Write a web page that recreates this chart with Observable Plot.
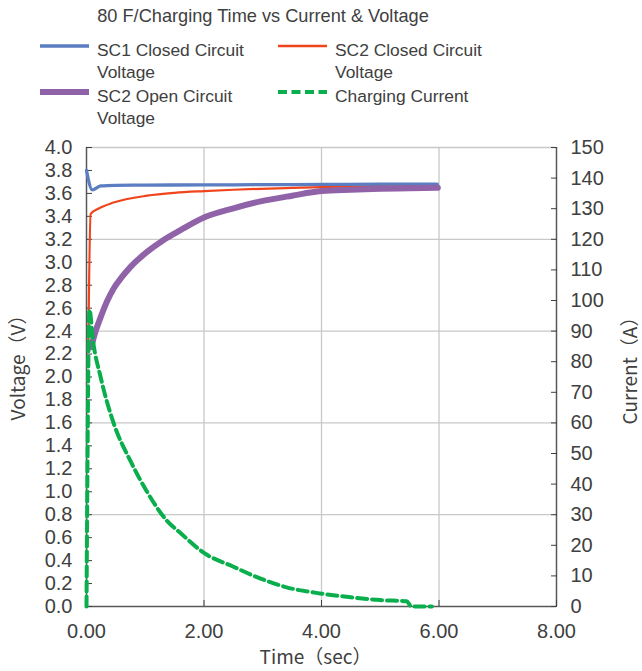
<!DOCTYPE html>
<html>
<head>
<meta charset="utf-8">
<script src="https://cdn.jsdelivr.net/npm/d3@7"></script>
<script src="https://cdn.jsdelivr.net/npm/@observablehq/plot@0.6"></script>
<style>
  html, body { margin: 0; padding: 0; background: #fff; }
  svg { display: block; }
  #head text { font-family: 'Liberation Sans', Arial, sans-serif; fill: #404040; }
</style>
</head>
<body>
<svg id="head" width="642" height="132"></svg>
<div id="chart"></div>
<script>
// ---- data ----
const chartTitle = "80 F/Charging Time vs Current & Voltage";
const seriesNames = ["SC1 Closed Circuit Voltage", "SC2 Closed Circuit Voltage", "SC2 Open Circuit Voltage", "Charging Current"];

const sc1Time = [0, 0.1, 0.24, 0.5, 1, 2, 3, 4, 5, 5.97];
const sc1Volt = [3.80, 3.63, 3.665, 3.67, 3.672, 3.674, 3.676, 3.678, 3.68, 3.68];

const sc2ClosedTime = [0.03, 0.07, 0.2, 0.46, 1.03, 1.5, 2.0, 2.5, 2.96, 3.5, 4.0, 4.5, 5.0, 5.45, 5.97];
const sc2ClosedVolt = [2.24, 3.42, 3.466, 3.52, 3.58, 3.605, 3.62, 3.632, 3.64, 3.648, 3.655, 3.66, 3.665, 3.67, 3.675];

const sc2OpenTime = [0.08, 0.15, 0.24, 0.35, 0.46, 0.6, 0.75, 1.03, 1.3, 1.6, 2.0, 2.5, 2.96, 3.5, 4.0, 4.5, 5.0, 5.5, 5.98];
const sc2OpenVolt = [2.26, 2.39, 2.52, 2.66, 2.77, 2.87, 2.96, 3.09, 3.19, 3.28, 3.39, 3.47, 3.53, 3.58, 3.62, 3.632, 3.64, 3.645, 3.65];

const currentTime = [0, 0.05, 0.11, 0.24, 0.46, 0.75, 1.03, 1.37, 1.6, 2.0, 2.5, 2.9, 3.36, 4.0, 4.5, 5.0, 5.45, 5.53, 5.88];
const currentAmp  = [0, 97, 87, 75, 60, 47.5, 37.5, 28, 24, 17.5, 13, 9.6, 6.5, 4.2, 3.0, 2.1, 1.7, 0, 0];

const voltTicks = [0.0, 0.2, 0.4, 0.6, 0.8, 1.0, 1.2, 1.4, 1.6, 1.8, 2.0, 2.2, 2.4, 2.6, 2.8, 3.0, 3.2, 3.4, 3.6, 3.8, 4.0];
const currentTicks = [0, 10, 20, 30, 40, 50, 60, 70, 80, 90, 100, 110, 120, 130, 140, 150];
const currentGrid = [30, 60, 90, 120, 150];
const timeTicks = [0, 2, 4, 6, 8];
const timeGrid = [2, 4, 6];

const colors = ["#5b7dc2", "#f0441c", "#9062a8", "#0aae4c"];
const FONT = "'Noto Sans CJK JP', sans-serif";
const TICKFONT = "'Liberation Sans', Arial, sans-serif";

// ---- header (title + legend) ----
const NS = "http://www.w3.org/2000/svg";
const head = document.getElementById("head");
function el(tag, attrs, text, parent) {
  const e = document.createElementNS(NS, tag);
  for (const k in attrs) e.setAttribute(k, attrs[k]);
  if (text != null) e.textContent = text;
  (parent || head).appendChild(e);
  return e;
}
el("text", {x: 263, y: 22, "text-anchor": "middle", "font-size": 18.2}, chartTitle);
const legendItems = [
  {x: 40, y: 46, w: 3.5, dash: null, lines: ["SC1 Closed Circuit", "Voltage"]},
  {x: 278, y: 46, w: 2.5, dash: null, lines: ["SC2 Closed Circuit", "Voltage"]},
  {x: 40, y: 92, w: 6, dash: null, lines: ["SC2 Open Circuit", "Voltage"]},
  {x: 278, y: 92, w: 4, dash: "9,4.5", lines: ["Charging Current"]}
];
legendItems.forEach((it, i) => {
  const a = {x1: it.x, x2: it.x + 49, y1: it.y, y2: it.y, stroke: colors[i], "stroke-width": it.w};
  if (it.dash) a["stroke-dasharray"] = it.dash;
  el("line", a);
  it.lines.forEach((s, j) => el("text", {x: it.x + 57, y: it.y + 10 + j * 22, "font-size": 17.4}, s));
});

// ---- chart ----
const K = 4 / 150; // amps -> volts on the shared y scale
const sc1 = sc1Time.map((t, i) => ({t, v: sc1Volt[i]}));
const sc2c = sc2ClosedTime.map((t, i) => ({t, v: sc2ClosedVolt[i]}));
const sc2o = sc2OpenTime.map((t, i) => ({t, v: sc2OpenVolt[i]}));
const cur = currentTime.map((t, i) => ({t, a: currentAmp[i]}));

const axisColor = "#595959";
const gridColor = "#c8c8c8";
const labelStyle = {fontSize: 19, fontFamily: FONT, fill: "#404040", textAnchor: "middle", lineAnchor: "middle"};

const chart = Plot.plot({
  width: 642,
  height: 539,
  marginTop: 15,
  marginBottom: 65,
  marginLeft: 86,
  marginRight: 86,
  style: {fontFamily: TICKFONT, fontSize: "20px", color: "#404040", background: "#fff", overflow: "visible"},
  x: {domain: [0, 8]},
  y: {domain: [0, 4]},
  marks: [
    Plot.gridY(currentGrid.map(a => a * K), {stroke: gridColor, strokeOpacity: 1, strokeWidth: 1.3}),
    Plot.gridX(timeGrid, {stroke: gridColor, strokeOpacity: 1, strokeWidth: 1.3}),
    Plot.ruleX([0, 8], {stroke: axisColor, strokeWidth: 1.5}),
    Plot.ruleY([0], {stroke: axisColor, strokeWidth: 1.5}),
    Plot.axisY(voltTicks, {anchor: "left", tickSize: 6, dx: 6, tickPadding: 14, tickFormat: d => d.toFixed(1), label: null}),
    Plot.axisY(currentTicks.map(a => a * K), {anchor: "right", tickSize: 6, dx: -6, tickPadding: 14, tickFormat: v => String(Math.round(v / K)), label: null}),
    Plot.axisX(timeTicks, {anchor: "bottom", tickSize: 6, dy: -6, tickPadding: 17, tickFormat: d => d.toFixed(2), label: null}),
    Plot.text(["Voltage（V）"], {frameAnchor: "left", rotate: -90, dx: -68, dy: -14, ...labelStyle}),
    Plot.text(["Current（A）"], {frameAnchor: "right", rotate: -90, dx: 74, dy: -11, ...labelStyle}),
    Plot.text(["Time（sec）"], {frameAnchor: "bottom", dx: -6, dy: 51, ...labelStyle}),
    Plot.line(sc2c, {x: "t", y: "v", stroke: colors[1], strokeWidth: 2.2, curve: "monotone-x"}),
    Plot.line(sc1, {x: "t", y: "v", stroke: colors[0], strokeWidth: 3.3, curve: "monotone-x"}),
    Plot.line(sc2o, {x: "t", y: "v", stroke: colors[2], strokeWidth: 6, curve: "monotone-x"}),
    Plot.line(cur, {x: "t", y: d => d.a * K, stroke: colors[3], strokeWidth: 4, strokeDasharray: "10,5", curve: "monotone-x"})
  ]
});
document.getElementById("chart").appendChild(chart);
</script>
</body>
</html>
